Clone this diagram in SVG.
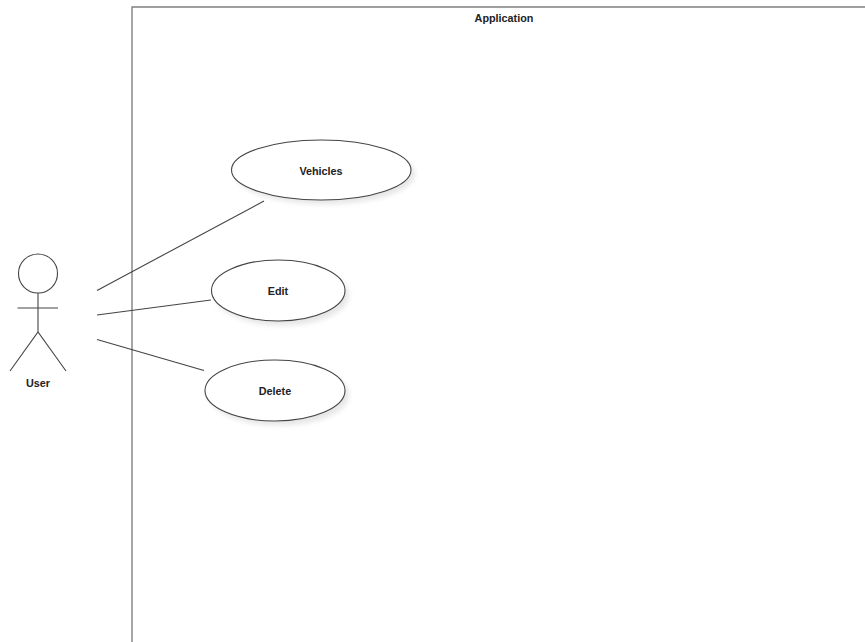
<svg xmlns="http://www.w3.org/2000/svg" width="865" height="642" viewBox="0 0 865 642">
<defs>
<filter id="soft" x="-20%" y="-30%" width="140%" height="160%"><feGaussianBlur stdDeviation="2.5"/></filter>
</defs>
<style>
text{font-family:"Liberation Sans",Arial,sans-serif;font-size:10.800px;font-weight:bold;fill:#222;text-anchor:middle}
.line{fill:none;stroke:#444;stroke-width:1.1}
.uc{fill:#fff;stroke:#444;stroke-width:1.1}
.sh{fill:#e6e6e6;filter:url(#soft)}
</style>
<rect width="865" height="642" fill="#fff"/>
<g id="application">
<path d="M132 642V7H865" fill="none" stroke="#808080" stroke-width="1.4"/>
<text x="504" y="21.500">Application</text>
</g>
<g id="connectors">
<line class="line" x1="97" y1="290.500" x2="264" y2="201"/>
<line class="line" x1="97" y1="315" x2="211" y2="300"/>
<line class="line" x1="97" y1="339.500" x2="204" y2="370.500"/>
</g>
<g id="user">
<circle class="line" cx="38" cy="273.500" r="19.500"/>
<path class="line" d="M38 293V332M17.500 308H58M10 371L38 332L66 371"/>
<text x="38" y="386.500">User</text>
</g>
<g id="vehicles">
<ellipse class="sh" cx="325" cy="174" rx="90" ry="30"/>
<ellipse class="uc" cx="321.250" cy="170" rx="89.750" ry="30"/>
<text x="321" y="174.500">Vehicles</text>
</g>
<g id="edit">
<ellipse class="sh" cx="282" cy="295" rx="67" ry="30.500"/>
<ellipse class="uc" cx="278.250" cy="290.500" rx="66.750" ry="30.500"/>
<text x="278" y="295">Edit</text>
</g>
<g id="delete">
<ellipse class="sh" cx="279" cy="395" rx="70" ry="30.500"/>
<ellipse class="uc" cx="275" cy="390.500" rx="70" ry="30.500"/>
<text x="275" y="395">Delete</text>
</g>
</svg>
